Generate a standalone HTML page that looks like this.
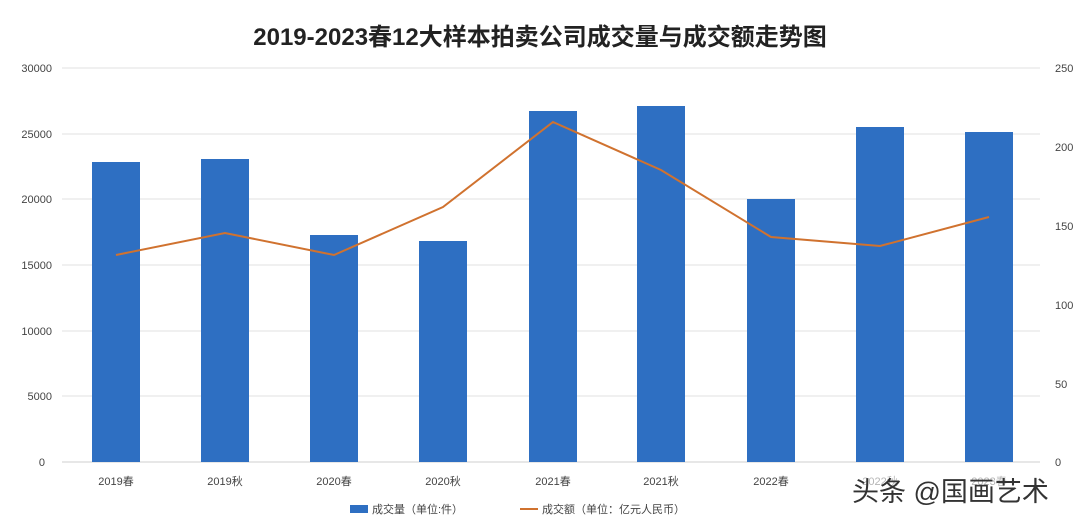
<!DOCTYPE html>
<html><head><meta charset="utf-8"><style>
body{margin:0;background:#fff;width:1080px;height:521px;overflow:hidden}
</style></head><body>
<svg width="1080" height="521" xmlns="http://www.w3.org/2000/svg" font-family="Liberation Sans, Noto Sans CJK SC, sans-serif">
<rect width="1080" height="521" fill="#fff"/>
<text x="540" y="45" text-anchor="middle" font-size="24" font-weight="bold" fill="#222" font-family="Liberation Sans, Noto Sans CJK SC, sans-serif">2019-2023春12大样本拍卖公司成交量与成交额走势图</text>
<g stroke="#e0e0e0" stroke-width="1">
<line x1="62" y1="68" x2="1040" y2="68"/><line x1="62" y1="134" x2="1040" y2="134"/>
<line x1="62" y1="199" x2="1040" y2="199"/><line x1="62" y1="265" x2="1040" y2="265"/>
<line x1="62" y1="331" x2="1040" y2="331"/><line x1="62" y1="396" x2="1040" y2="396"/>
</g>
<line x1="62" y1="462" x2="1040" y2="462" stroke="#cfcfcf"/>
<g font-size="11" fill="#444" text-anchor="end">
<text x="52" y="72">30000</text><text x="52" y="138">25000</text><text x="52" y="203">20000</text>
<text x="52" y="269">15000</text><text x="52" y="335">10000</text><text x="52" y="400">5000</text><text x="45" y="466">0</text>
</g>
<g font-size="11" fill="#444" text-anchor="start">
<text x="1055" y="72">250</text><text x="1055" y="151">200</text><text x="1055" y="230">150</text>
<text x="1055" y="309">100</text><text x="1055" y="388">50</text><text x="1055" y="466">0</text>
</g>
<g fill="#2e6fc2">
<rect x="92" y="162" width="48" height="300"/><rect x="201" y="159" width="48" height="303"/>
<rect x="310" y="235" width="48" height="227"/><rect x="419" y="241" width="48" height="221"/>
<rect x="529" y="111" width="48" height="351"/><rect x="637" y="106" width="48" height="356"/>
<rect x="747" y="199" width="48" height="263"/><rect x="856" y="127" width="48" height="335"/>
<rect x="965" y="132" width="48" height="330"/>
</g>
<polyline fill="none" stroke="#d0722f" stroke-width="2" points="116,255 225,233 334,255 443,207 553,122 661,170 771,237 880,246 989,217"/>
<g font-size="11" fill="#444" text-anchor="middle">
<text x="116" y="485">2019春</text><text x="225" y="485">2019秋</text><text x="334" y="485">2020春</text>
<text x="443" y="485">2020秋</text><text x="553" y="485">2021春</text><text x="661" y="485">2021秋</text>
<text x="771" y="485">2022春</text><text x="880" y="485">2022秋</text><text x="989" y="485">2023春</text>
</g>
<rect x="350" y="505" width="18" height="8" fill="#2e6fc2"/>
<text x="372" y="513" font-size="11" fill="#444">成交量（单位:件）</text>
<line x1="520" y1="509" x2="538" y2="509" stroke="#d0722f" stroke-width="2"/>
<text x="542" y="513" font-size="11" fill="#444">成交额（单位：亿元人民币）</text>
<rect x="850" y="472" width="220" height="36" fill="#fff" opacity="0.6"/>
<text x="852" y="501" font-size="27" fill="#333">头条 @国画艺术</text>
</svg>
</body></html>
